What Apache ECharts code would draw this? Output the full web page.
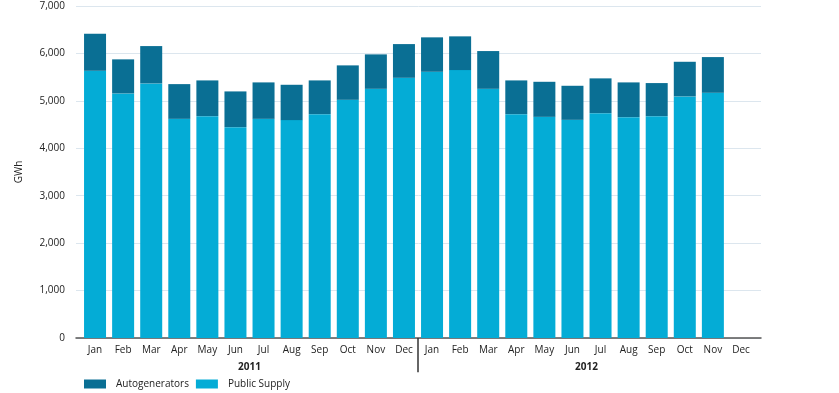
<!DOCTYPE html>
<html><head><meta charset="utf-8">
<script src="https://cdn.jsdelivr.net/npm/echarts@6/dist/echarts.min.js"></script>
<style>html,body{margin:0;padding:0;background:#fff}#c{width:839px;height:393px}</style>
</head><body><div id="c"></div>
<script>
const months = ['Jan','Feb','Mar','Apr','May','Jun','Jul','Aug','Sep','Oct','Nov','Dec','Jan','Feb','Mar','Apr','May','Jun','Jul','Aug','Sep','Oct','Nov','Dec'];
const years = ['2011','2012'];
const publicSupply = [5634,5157,5368,4621,4678,4446,4621,4594,4720,5022,5254,5486,5613,5649,5254,4720,4663,4600,4741,4657,4678,5094,5170,null];
const autogenerators = [781,718,787,732,753,753,768,745,711,726,726,711,726,711,796,711,739,718,733,732,697,730,753,null];
// year divider: boundary after 12 months, drawn below the axis (in axis units)
const yearDivider = [[12, 0], [12, -720]];

const font = '"Open Sans", "Noto Sans", sans-serif';
const chart = echarts.init(document.getElementById('c'), null, {renderer:'canvas'});
chart.setOption({
  animation:false,
  textStyle:{fontFamily:font},
  legend:{
    left:84, top:379, padding:0, itemWidth:22, itemHeight:9, itemGap:7,
    icon:'rect',
    data:['Autogenerators','Public Supply'],
    textStyle:{fontSize:10, color:'#222', fontFamily:font, padding:[0,0,0,5]}
  },
  grid:[
    {left:76, right:78, top:6, bottom:55},
    {left:81, width:674, top:6, bottom:55}
  ],
  xAxis:[
    {gridIndex:0, type:'value', min:0, max:1, position:'bottom',
     axisLine:{show:true, lineStyle:{color:'#555', width:1.5}},
     axisTick:{show:false}, axisLabel:{show:false}, splitLine:{show:false}},
    {gridIndex:1, type:'category', data:months, position:'bottom',
     axisLine:{show:false}, axisTick:{show:false},
     axisLabel:{interval:0, margin:7, fontSize:10, color:'#222', fontFamily:font}},
    {gridIndex:1, type:'category', data:years, position:'bottom',
     axisLine:{show:false}, axisTick:{show:false},
     axisLabel:{interval:0, margin:24, fontSize:10, fontWeight:'bold', color:'#222', fontFamily:font}},
    {gridIndex:1, type:'value', min:0, max:24, show:false}
  ],
  yAxis:[
    {gridIndex:0, type:'value', min:0, max:7000, interval:1000,
     name:'GWh', nameLocation:'middle', nameGap:52, nameRotate:90,
     nameTextStyle:{fontSize:10, color:'#222', fontFamily:font},
     axisLine:{show:false}, axisTick:{show:false},
     axisLabel:{margin:11, fontSize:10, color:'#222', fontFamily:font,
       formatter:function(v){return v.toLocaleString('en-US');}},
     splitLine:{lineStyle:{color:'#dce6ee', width:1}}},
    {gridIndex:1, type:'value', min:0, max:7000, interval:1000, show:false, splitLine:{show:false}}
  ],
  series:[
    {name:'Public Supply', type:'bar', stack:'t', xAxisIndex:1, yAxisIndex:1, barWidth:22,
     itemStyle:{color:'#04acd6'}, data:publicSupply},
    {name:'Autogenerators', type:'bar', stack:'t', xAxisIndex:1, yAxisIndex:1, barWidth:22,
     itemStyle:{color:'#0a6f94'}, data:autogenerators},
    {name:'divider', type:'line', xAxisIndex:3, yAxisIndex:1, clip:false, silent:true,
     symbol:'none', lineStyle:{color:'#333', width:1.5}, data:yearDivider}
  ]
});
</script></body></html>
